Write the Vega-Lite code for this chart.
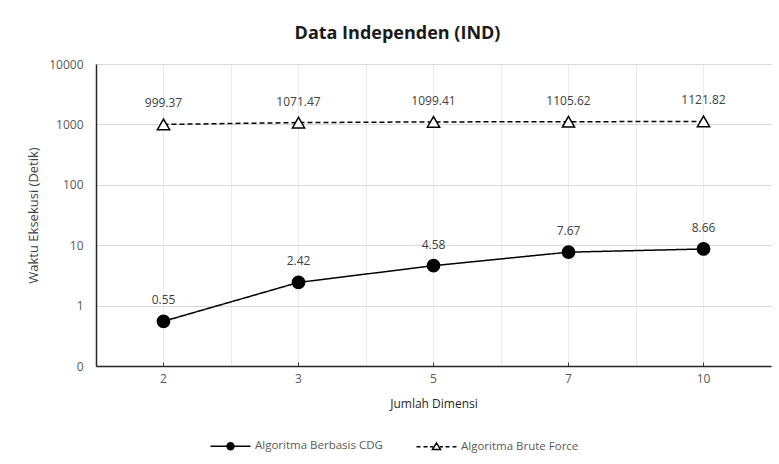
{
  "$schema": "https://vega.github.io/schema/vega-lite/v6.json",
  "width": 675,
  "height": 302,
  "autosize": "none",
  "padding": {"left": 96, "top": 64, "right": 8, "bottom": 98},
  "background": "white",
  "config": {"view": {"stroke": null}, "font": "Open Sans"},
  "title": {
    "text": "Data Independen (IND)",
    "fontSize": 18,
    "fontWeight": "bold",
    "font": "Open Sans",
    "color": "#1a1a1a",
    "anchor": "middle",
    "dx": -36,
    "offset": 15
  },
  "data": {
    "values": [
      {"series": "Algoritma Berbasis CDG", "dim": "2", "value": 0.55, "label": "0.55"},
      {"series": "Algoritma Berbasis CDG", "dim": "3", "value": 2.42, "label": "2.42"},
      {"series": "Algoritma Berbasis CDG", "dim": "5", "value": 4.58, "label": "4.58"},
      {"series": "Algoritma Berbasis CDG", "dim": "7", "value": 7.67, "label": "7.67"},
      {"series": "Algoritma Berbasis CDG", "dim": "10", "value": 8.66, "label": "8.66"},
      {"series": "Algoritma Brute Force", "dim": "2", "value": 999.37, "label": "999.37"},
      {"series": "Algoritma Brute Force", "dim": "3", "value": 1071.47, "label": "1071.47"},
      {"series": "Algoritma Brute Force", "dim": "5", "value": 1099.41, "label": "1099.41"},
      {"series": "Algoritma Brute Force", "dim": "7", "value": 1105.62, "label": "1105.62"},
      {"series": "Algoritma Brute Force", "dim": "10", "value": 1121.82, "label": "1121.82"}
    ]
  },
  "encoding": {
    "y": {
      "field": "value",
      "type": "quantitative",
      "scale": {"type": "log", "domain": [0.1, 10000]},
      "axis": {
        "title": "Waktu Eksekusi (Detik)",
        "titleFont": "Open Sans",
        "titleFontSize": 13,
        "titleFontWeight": "normal",
        "titleColor": "#404040",
        "titlePadding": 8,
        "values": [0.1, 1, 10, 100, 1000, 10000],
        "labelExpr": "datum.value < 1 ? '0' : format(datum.value, 'd')",
        "labelFont": "Open Sans",
        "labelFontSize": 12,
        "labelColor": "#595959",
        "labelPadding": 13,
        "ticks": false,
        "domain": true,
        "domainColor": "#262626",
        "domainWidth": 1.5,
        "grid": true,
        "gridColor": "#d9d9d9",
        "gridWidth": 1
      }
    }
  },
  "layer": [
    {
      "mark": {"type": "line", "color": "black", "strokeWidth": 1.5},
      "encoding": {
        "x": {
          "field": "dim",
          "type": "ordinal",
          "sort": ["2", "3", "5", "7", "10"],
          "scale": {"type": "band", "paddingInner": 0, "paddingOuter": 0},
          "axis": {
            "title": "Jumlah Dimensi",
            "titleFont": "Open Sans",
            "titleFontSize": 12,
            "titleFontWeight": "normal",
            "titleColor": "#262626",
            "titlePadding": 14,
            "labelAngle": 0,
            "labelFont": "Open Sans",
            "labelFontSize": 12,
            "labelColor": "#595959",
            "labelPadding": 11,
            "bandPosition": 0.5,
            "ticks": true,
            "tickSize": -4,
            "tickColor": "#404040",
            "domain": true,
            "domainColor": "#262626",
            "domainWidth": 1.5,
            "grid": true,
            "gridColor": "#ebebeb",
            "zindex": 0
          }
        },
        "strokeDash": {
          "field": "series",
          "type": "nominal",
          "scale": {
            "domain": ["Algoritma Berbasis CDG", "Algoritma Brute Force"],
            "range": [[1, 0], [5, 3]]
          },
          "legend": null
        }
      }
    },
    {
      "mark": {"type": "point", "stroke": "black", "strokeWidth": 1.5, "opacity": 1, "fillOpacity": 1, "size": 150},
      "encoding": {
        "x": {
          "field": "dim",
          "type": "ordinal",
          "sort": ["2", "3", "5", "7", "10"],
          "axis": {
            "title": null,
            "labels": false,
            "ticks": false,
            "domain": false,
            "bandPosition": 0,
            "grid": true,
            "gridColor": "#ebebeb",
            "zindex": 0
          }
        },
        "shape": {
          "field": "series",
          "type": "nominal",
          "scale": {
            "domain": ["Algoritma Berbasis CDG", "Algoritma Brute Force"],
            "range": ["circle", "triangle-up"]
          },
          "legend": null
        },
        "fill": {
          "field": "series",
          "type": "nominal",
          "scale": {
            "domain": ["Algoritma Berbasis CDG", "Algoritma Brute Force"],
            "range": ["black", "white"]
          },
          "legend": null
        }
      }
    },
    {
      "mark": {"type": "point", "color": "black", "filled": false, "opacity": 0},
      "encoding": {
        "x": {"field": "dim", "type": "ordinal", "sort": ["2", "3", "5", "7", "10"], "axis": null},
        "shape": {
          "field": "series",
          "type": "nominal",
          "scale": {
            "domain": ["Algoritma Berbasis CDG", "Algoritma Brute Force"],
            "range": [
              "M-4,0H4M0.7,0A0.7,0.7,0,1,1,-0.7,0A0.7,0.7,0,1,1,0.7,0ZM0.45,0A0.45,0.45,0,1,1,-0.45,0A0.45,0.45,0,1,1,0.45,0ZM0.2,0A0.2,0.2,0,1,1,-0.2,0A0.2,0.2,0,1,1,0.2,0Z",
              "M-4,0H-3.2M-2.6,0H-1.8M-1.3,0H-0.7M0.7,0H1.3M1.8,0H2.6M3.2,0H4M-0.8,0.55L0,-0.75L0.8,0.55Z"
            ]
          },
          "legend": {
            "title": null,
            "orient": "none",
            "direction": "horizontal",
            "legendX": 128.5,
            "legendY": 376,
            "padding": 0,
            "symbolSize": 100,
            "symbolStrokeColor": "black",
            "symbolFillColor": "transparent",
            "symbolStrokeWidth": 1.5,
            "symbolOpacity": 1,
            "labelOffset": 18.5,
            "columnPadding": 30,
            "labelFont": "Open Sans",
            "labelFontSize": 11.5,
            "labelColor": "#595959"
          }
        }
      }
    },
    {
      "mark": {"type": "text", "baseline": "alphabetic", "dy": -17, "fontSize": 12, "font": "Open Sans", "color": "#404040"},
      "encoding": {
        "x": {"field": "dim", "type": "ordinal", "sort": ["2", "3", "5", "7", "10"], "axis": null},
        "text": {"field": "label"}
      }
    }
  ],
  "resolve": {"axis": {"x": "independent"}, "scale": {"shape": "independent"}}
}
